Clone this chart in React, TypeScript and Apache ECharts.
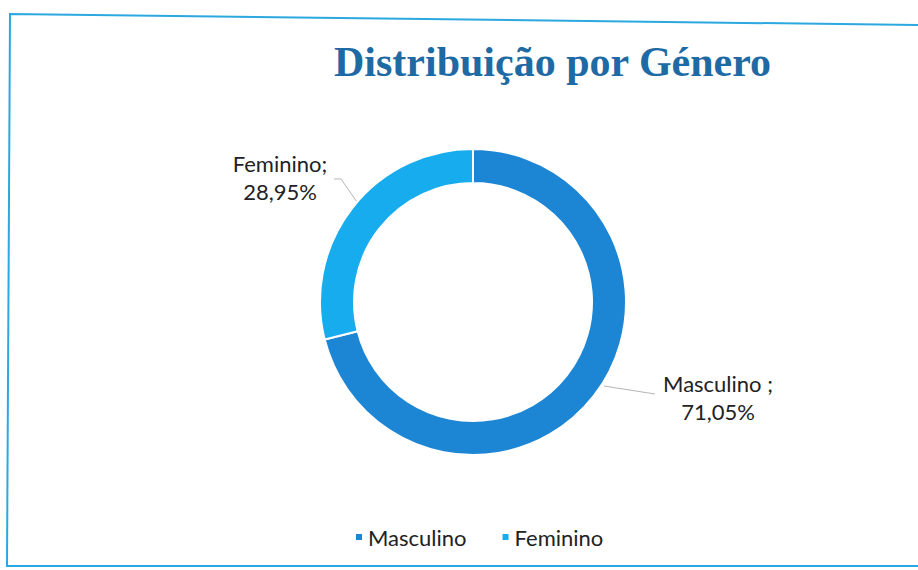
import React, { useEffect, useRef } from "react";
import * as echarts from "echarts";

const categories = ["Masculino", "Feminino"];
const values = [71.05, 28.95];
const labelTexts = ["Masculino ;\n71,05%", "Feminino;\n28,95%"];
const colors = ["#1C86D4", "#17ACEE"];

export default function App() {
  const ref = useRef<HTMLDivElement>(null);
  useEffect(() => {
    document.body.style.margin = "0";
    const chart = echarts.init(ref.current!, null, { renderer: "svg" });
    chart.setOption({
      animation: false,
      backgroundColor: "#ffffff",
      title: {
        text: "Distribuição por Género",
        left: 329,
        top: 36,
        textStyle: {
          fontFamily: "Liberation Serif",
          fontWeight: "bold",
          fontSize: 42,
          color: "#1E6AA5",
        },
      },
      legend: {
        data: categories,
        left: 349,
        top: 521,
        icon: "rect",
        itemWidth: 8,
        itemHeight: 8,
        itemGap: 34,
        textStyle: { fontFamily: "Lato", fontSize: 22, color: "#222" },
      },
      graphic: [
        {
          type: "polyline",
          shape: { points: [[918, 25], [10, 14], [7, 566], [918, 566]] },
          style: { stroke: "#2AA8DF", lineWidth: 2, fill: "none" },
          silent: true,
        },
      ],
      series: [
        {
          type: "pie",
          center: [473, 302],
          radius: [119, 153],
          startAngle: 90,
          clockwise: true,
          itemStyle: { borderColor: "#fff", borderWidth: 2 },
          label: {
            show: true,
            position: "outside",
            fontFamily: "Lato",
            fontSize: 22,
            lineHeight: 28,
            color: "#222",
            align: "center",
            formatter: (p: any) => labelTexts[p.dataIndex],
          },
          labelLine: {
            show: true,
            length: 12,
            length2: 40,
            lineStyle: { color: "#b5b5b5", width: 1 },
          },
          labelLayout: (p: any) => {
            const pts = p.labelLinePoints;
            if (!pts) return {};
            if (p.dataIndex === 1) {
              return {
                x: 280,
                y: 177,
                align: "center",
                verticalAlign: "middle",
                labelLinePoints: [[368, 218], [341, 179], [334, 179]],
              };
            }
            return {
              x: 718,
              y: 397,
              align: "center",
              verticalAlign: "middle",
              labelLinePoints: [[604, 386], [655, 394], [655, 394]],
            };
          },
          data: categories.map((c, i) => ({
            name: c,
            value: values[i],
            itemStyle: { color: colors[i] },
          })),
        },
      ],
    });
    return () => chart.dispose();
  }, []);
  return <div ref={ref} style={{ width: 918, height: 570 }} />;
}
